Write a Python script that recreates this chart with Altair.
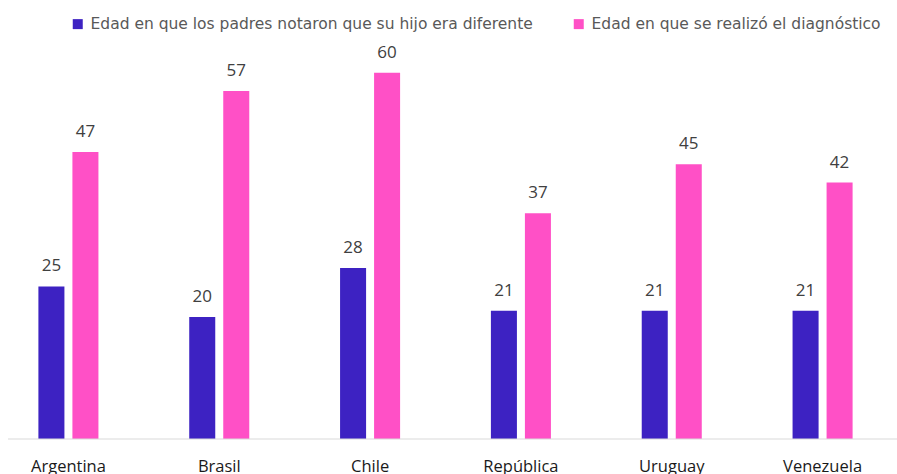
import altair as alt
import pandas as pd

countries = ["Argentina", "Brasil", "Chile", "República Dominicana", "Uruguay", "Venezuela"]
noticed = [25, 20, 28, 21, 21, 21]
diagnosed = [47, 57, 60, 37, 45, 42]
series = ["Edad en que los padres notaron que su hijo era diferente",
          "Edad en que se realizó el diagnóstico"]
colors = ["#3D22C2", "#FF50C6"]

rows = []
for c, a, b in zip(countries, noticed, diagnosed):
    rows.append({"País": c, "Serie": series[0], "Valor": a})
    rows.append({"País": c, "Serie": series[1], "Valor": b})
df = pd.DataFrame(rows)

FONT = "Open Sans"
W, H = 897, 409

xscale = alt.Scale(domain=countries, range=[-7, 898], paddingInner=0.602, paddingOuter=0.301)
xoff = alt.Scale(domain=series, paddingInner=0.235, paddingOuter=0)
yscale = alt.Scale(domain=[0, 67], nice=False)

base = alt.Chart(df).encode(
    x=alt.X("País:N", sort=countries, scale=xscale,
            axis=alt.Axis(title=None, labelAngle=0, domain=False, ticks=False,
                          labelPadding=19, labelFont=FONT, labelFontSize=16.5,
                          labelColor="#1a1a1a", labelLimit=0, labelLineHeight=24,
                          labelExpr="split(datum.label, ' ')")),
    xOffset=alt.XOffset("Serie:N", sort=series, scale=xoff),
    y=alt.Y("Valor:Q", scale=yscale, axis=None),
)

bars = base.mark_bar().encode(
    color=alt.Color("Serie:N", sort=series,
                    scale=alt.Scale(domain=series, range=colors),
                    legend=alt.Legend(title=None, orient="none", legendX=70, legendY=-14,
                                      direction="horizontal", symbolType="square",
                                      symbolSize=100, symbolStrokeWidth=0,
                                      labelFont="DejaVu Sans", labelFontSize=15.5,
                                      labelColor="#595959", columnPadding=38,
                                      labelLimit=0, symbolOffset=0, labelOffset=5))
)

labels = base.mark_text(baseline="bottom", dy=-11, font=FONT, fontSize=17,
                        color="#404040").encode(text="Valor:Q")

axis_line = alt.Chart(pd.DataFrame({"v": [0]})).mark_rule(color="#d9d9d9", strokeWidth=1).encode(
    x=alt.value(8), x2=alt.value(897), y=alt.value(H))

chart = (bars + labels + axis_line).properties(
    width=W, height=H,
    autosize=alt.AutoSizeParams(type="none"),
    padding={"left": 0, "top": 30, "right": 0, "bottom": 35},
).configure(background="white").configure_view(stroke=None, strokeWidth=0)

chart.save("out.html", embed_options={"renderer": "svg", "actions": False})
